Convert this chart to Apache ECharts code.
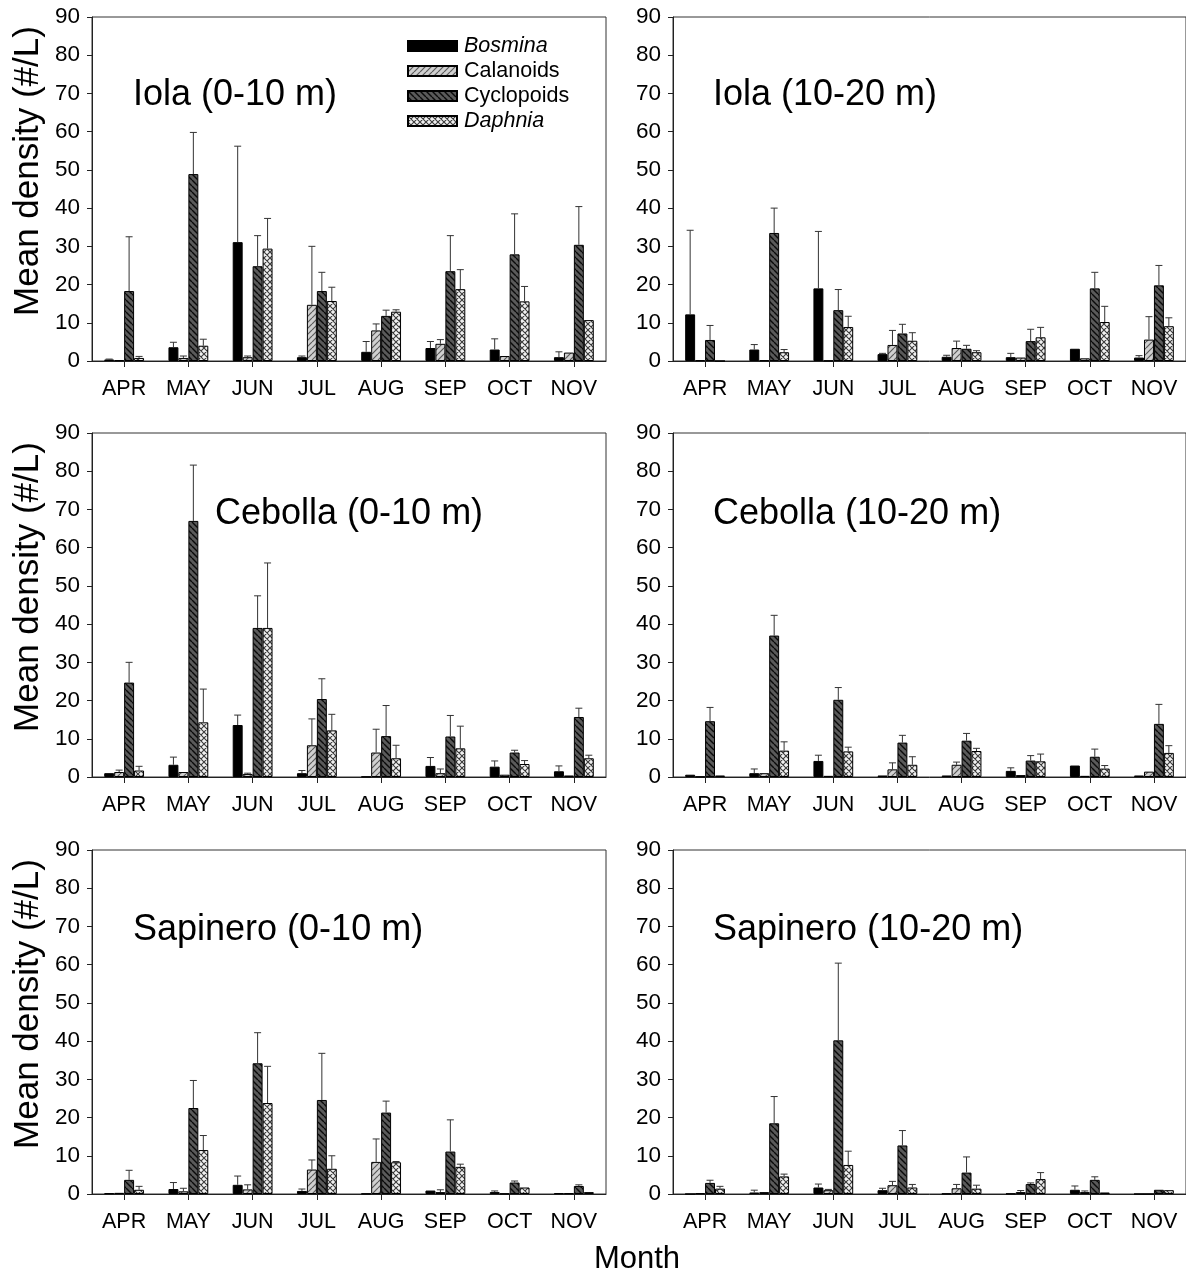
<!DOCTYPE html>
<html>
<head>
<meta charset="utf-8">
<script src="https://cdn.jsdelivr.net/npm/echarts@6/dist/echarts.min.js"></script>
<style>
html,body{margin:0;padding:0;background:#fff;}
#chart{width:1186px;height:1272px;}
</style>
</head>
<body>
<div id="chart"></div>
<script>
// ---------- DATA ----------
const months = ['APR','MAY','JUN','JUL','AUG','SEP','OCT','NOV'];
const taxa = ['Bosmina','Calanoids','Cyclopoids','Daphnia'];
const yTicks = [0,10,20,30,40,50,60,70,80,90];
const panelTitles = ['Iola (0-10 m)','Iola (10-20 m)','Cebolla (0-10 m)','Cebolla (10-20 m)','Sapinero (0-10 m)','Sapinero (10-20 m)'];

// rows: Bosmina, Calanoids, Cyclopoids, Daphnia ; columns: APR..NOV
const iolaShallowMean = [
  [0.4, 3.6, 31.1, 1.0, 2.4, 3.4, 3.0, 1.0],
  [0.2, 0.8, 1.0, 14.7, 8.0, 4.5, 1.3, 2.2],
  [18.3, 48.9, 24.8, 18.3, 11.8, 23.5, 27.9, 30.4],
  [0.8, 4.0, 29.4, 15.7, 12.9, 18.8, 15.6, 10.7]
];
const iolaShallowUpper = [
  [0.5, 4.9, 56.2, 1.3, 5.1, 5.1, 5.8, 2.4],
  [null, 1.3, 1.3, 30.0, 9.7, 5.6, null, null],
  [32.5, 59.8, 32.8, 23.2, 13.3, 32.8, 38.5, 40.4],
  [1.2, 5.7, 37.3, 19.3, 13.4, 23.9, 19.5, null]
];
const iolaDeepMean = [
  [12.2, 3.0, 19.0, 1.8, 1.1, 1.0, 3.2, 0.9],
  [0.2, 0.2, 0.1, 4.2, 3.4, 0.9, 0.7, 5.6],
  [5.5, 33.5, 13.3, 7.2, 3.2, 5.2, 19.0, 19.8],
  [0, 2.3, 8.9, 5.3, 2.3, 6.2, 10.2, 9.1]
];
const iolaDeepUpper = [
  [34.2, 4.3, 33.9, 2.0, 1.5, 2.0, null, 1.4],
  [null, null, null, 8.0, 5.2, null, null, 11.6],
  [9.3, 40.0, 18.7, 9.6, 4.1, 8.3, 23.2, 25.0],
  [null, 3.0, 11.7, 7.4, 2.7, 8.8, 14.3, 11.3]
];
const cebollaShallowMean = [
  [1.0, 3.2, 13.6, 1.0, 0.1, 2.9, 2.7, 1.5],
  [1.3, 1.3, 0.8, 8.3, 6.4, 1.0, 0.6, 0.4],
  [24.7, 67.0, 39.0, 20.4, 10.7, 10.6, 6.4, 15.7],
  [1.7, 14.3, 39.0, 12.2, 4.9, 7.5, 3.4, 4.9]
];
const cebollaShallowUpper = [
  [null, 5.2, 16.2, 1.7, null, 5.1, 4.2, 2.9],
  [1.8, null, 1.0, 15.2, 12.5, 2.1, null, null],
  [30.0, 81.6, 47.4, 25.7, 18.7, 16.1, 7.0, 18.0],
  [2.8, 23.0, 56.0, 16.4, 8.3, 13.3, 4.3, 5.7]
];
const cebollaDeepMean = [
  [0.6, 1.0, 4.2, 0.4, 0.4, 1.6, 3.0, 0.4],
  [0.1, 1.0, 0.3, 2.0, 3.2, 0.5, 0.3, 1.4],
  [14.6, 37.0, 20.2, 9.0, 9.5, 4.3, 5.3, 13.9],
  [0.4, 6.9, 6.7, 3.2, 6.8, 4.1, 2.2, 6.3]
];
const cebollaDeepUpper = [
  [null, 2.1, 5.7, null, null, 2.4, null, null],
  [null, null, null, 3.7, 3.9, null, null, null],
  [18.2, 42.3, 23.4, 10.9, 11.4, 5.6, 7.3, 19.0],
  [null, 9.2, 7.8, 5.3, 7.5, 6.0, 3.0, 8.2]
];
const sapineroShallowMean = [
  [0.2, 1.3, 2.4, 0.8, 0.1, 0.9, 0.5, 0.2],
  [0.3, 0.7, 1.2, 6.4, 8.4, 0.5, 0.1, 0.2],
  [3.7, 22.5, 34.2, 24.6, 21.3, 11.1, 3.0, 2.1],
  [1.1, 11.5, 23.8, 6.6, 8.3, 7.1, 1.7, 0.5]
];
const sapineroShallowUpper = [
  [null, 3.0, 4.7, 1.3, null, null, 0.8, null],
  [null, 1.5, 2.4, 8.9, 14.4, 1.1, null, null],
  [6.2, 29.7, 42.2, 36.8, 24.3, 19.4, 3.4, 2.4],
  [2.0, 15.3, 33.4, 10.0, 8.5, 7.8, null, null]
];
const sapineroDeepMean = [
  [0, 0.4, 1.7, 1.0, 0.1, 0.1, 1.1, 0],
  [0.2, 0.5, 1.0, 2.3, 1.5, 0.5, 0.5, 0],
  [2.9, 18.5, 40.2, 12.7, 5.6, 2.6, 3.7, 1.1],
  [1.4, 4.6, 7.6, 1.7, 1.4, 3.9, 0.4, 1.0]
];
const sapineroDeepUpper = [
  [null, 1.0, 2.6, 1.5, null, null, 2.1, null],
  [null, null, 1.2, 3.3, 2.5, 0.9, 0.8, null],
  [3.6, 25.5, 60.4, 16.6, 9.7, 2.9, 4.5, null],
  [2.0, 5.2, 11.2, 2.5, 2.3, 5.6, null, null]
];

const panelMeans = [iolaShallowMean, iolaDeepMean, cebollaShallowMean, cebollaDeepMean, sapineroShallowMean, sapineroDeepMean];
const panelUppers = [iolaShallowUpper, iolaDeepUpper, cebollaShallowUpper, cebollaDeepUpper, sapineroShallowUpper, sapineroDeepUpper];

// ---------- STYLE ----------
const FONT = '"Liberation Sans", Arial, sans-serif';
const BAR_FRAC = 0.155;
const gridLefts = [92, 673];
const gridWidths = [514, 518];
const gridTops = [17, 433, 850];
const GRID_H = 344;

function makePattern(bg, fg, kind, size, lw) {
  const c = document.createElement('canvas');
  c.width = size; c.height = size;
  const ctx = c.getContext('2d');
  ctx.fillStyle = bg; ctx.fillRect(0, 0, size, size);
  ctx.strokeStyle = fg; ctx.lineWidth = lw;
  ctx.beginPath();
  for (let o = -size; o <= size; o += size) {
    if (kind === 'up' || kind === 'cross') { ctx.moveTo(o, size); ctx.lineTo(o + size, 0); }
    if (kind === 'down' || kind === 'cross') { ctx.moveTo(o, 0); ctx.lineTo(o + size, size); }
  }
  ctx.stroke();
  return { image: c, repeat: 'repeat' };
}

const taxonColors = [
  '#000000',
  makePattern('#d0d0d0', '#5a5a5a', 'up', 6, 1.2),
  makePattern('#5a5a5a', '#0a0a0a', 'down', 6, 1.4),
  makePattern('#f0f0f0', '#3a3a3a', 'cross', 6, 1.1)
];

const grids = [], xAxes = [], yAxes = [], series = [], graphics = [];
const titleLeft = [[41, 40], [123, 40], [41, 40]];
const titleTop = [60, 63, 62];

for (let p = 0; p < 6; p++) {
  const row = Math.floor(p / 2), col = p % 2;
  grids.push({
    left: gridLefts[col], top: gridTops[row], width: gridWidths[col], height: GRID_H,
    show: true, borderColor: '#333', borderWidth: 1, backgroundColor: 'transparent'
  });
  xAxes.push({
    type: 'category', gridIndex: p, data: months,
    axisLine: { show: true, lineStyle: { color: '#222', width: 1 } },
    axisTick: { show: true, alignWithLabel: true, length: 6, lineStyle: { color: '#222' } },
    axisLabel: { color: '#000', fontSize: 21.5, fontFamily: FONT, margin: 17, lineHeight: 22 },
    splitLine: { show: false }
  });
  yAxes.push({
    type: 'value', gridIndex: p, min: yTicks[0], max: yTicks[yTicks.length - 1], interval: 10,
    axisLine: { show: true, lineStyle: { color: '#222', width: 1 } },
    axisTick: { show: true, length: 5, lineStyle: { color: '#222' } },
    axisLabel: { color: '#000', fontSize: 22.5, fontFamily: FONT, margin: 12 },
    splitLine: { show: false }
  });
  const means = panelMeans[p], uppers = panelUppers[p];
  for (let k = 0; k < 4; k++) {
    series.push({
      type: 'bar', name: taxa[k], xAxisIndex: p, yAxisIndex: p,
      data: means[k], barWidth: (BAR_FRAC * 100) + '%', barGap: '0%',
      itemStyle: { color: taxonColors[k], borderColor: '#000', borderWidth: 1 },
      emphasis: { disabled: true }, animation: false
    });
  }
  const errData = [];
  for (let k = 0; k < 4; k++) {
    for (let i = 0; i < months.length; i++) {
      if (uppers[k][i] != null) errData.push([i, k, means[k][i], uppers[k][i]]);
    }
  }
  series.push({
    type: 'custom', xAxisIndex: p, yAxisIndex: p, z: 5, animation: false,
    data: errData, encode: { x: 0, y: 3 },
    renderItem: function (params, api) {
      const cat = api.value(0), k = api.value(1);
      const base = api.coord([cat, api.value(2)]);
      const top = api.coord([cat, api.value(3)]);
      const band = api.size([1, 0])[0];
      const bw = band * BAR_FRAC;
      const x = base[0] + (k - 1.5) * bw;
      const st = { stroke: '#333', lineWidth: 1 };
      return {
        type: 'group', children: [
          { type: 'line', shape: { x1: x, y1: base[1], x2: x, y2: top[1] }, style: st },
          { type: 'line', shape: { x1: x - 3.5, y1: top[1], x2: x + 3.5, y2: top[1] }, style: st }
        ]
      };
    }
  });
  graphics.push({
    type: 'text', left: gridLefts[col] + titleLeft[row][col],
    top: gridTops[row] + titleTop[row],
    style: { text: panelTitles[p], fontSize: 36, fontFamily: FONT, fill: '#000' }
  });
  if (col === 0) {
    graphics.push({
      type: 'text', x: 28, y: gridTops[row] + GRID_H / 2 - 18, rotation: Math.PI / 2,
      style: { text: 'Mean density (#/L)', fontSize: 35, fontFamily: FONT, fill: '#000',
        align: 'center', verticalAlign: 'middle' }
    });
  }
}
graphics.push({
  type: 'text', x: 637, y: 1259,
  style: { text: 'Month', fontSize: 31, fontFamily: FONT, fill: '#000', align: 'center', verticalAlign: 'middle' }
});

const chart = echarts.init(document.getElementById('chart'), null, { renderer: 'canvas' });
chart.setOption({
  animation: false,
  backgroundColor: '#fff',
  grid: grids, xAxis: xAxes, yAxis: yAxes, series: series,
  legend: {
    data: taxa, orient: 'vertical', left: 402, top: 30,
    icon: 'rect', itemWidth: 49, itemHeight: 10, itemGap: 3,
    selectedMode: false,
    formatter: function (name) {
      return (name === 'Bosmina' || name === 'Daphnia') ? '{i|' + name + '}' : '{n|' + name + '}';
    },
    textStyle: {
      fontSize: 21.5, fontFamily: FONT, color: '#000', padding: [0, 0, 0, 2],
      rich: {
        i: { fontSize: 21.5, fontFamily: FONT, fontStyle: 'italic', color: '#000' },
        n: { fontSize: 21.5, fontFamily: FONT, color: '#000' }
      }
    }
  },
  graphic: graphics
});
</script>
</body>
</html>
